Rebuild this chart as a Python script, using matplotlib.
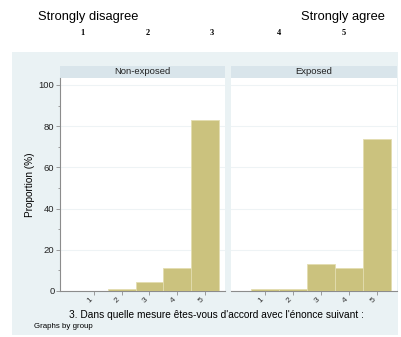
import matplotlib
matplotlib.use("Agg")
import matplotlib.pyplot as plt
from matplotlib.patches import Rectangle

plt.rcParams['font.family'] = ['Liberation Sans', 'DejaVu Sans']

# response proportions (%) per answer category, by group
categories = [1, 2, 3, 4, 5]
tick_labels = ['1', '2', '3', '4', '5']
groups = ['Non-exposed', 'Exposed']
non_exposed = [0, 1.2, 4.5, 11.3, 83.0]
exposed = [1.0, 1.0, 13.0, 11.0, 74.0]
series = [non_exposed, exposed]

scale_ends = ['Strongly disagree', 'Strongly agree']
scale_nums = ['1', '2', '3', '4', '5']

W, H = 401, 337
fig = plt.figure(figsize=(W / 100, H / 100), dpi=100)
fig.patch.set_facecolor('white')

def fx(x):
    return x / W

def fy(y):
    return 1 - y / H

bg = '#eaf2f4'
strip_col = '#d9e5eb'
bar_col = '#cbc27e'
axis_col = '#8c8c8c'

# graph region background
fig.patches.append(Rectangle((fx(12), fy(335)), fx(398) - fx(12), fy(52) - fy(335),
                             transform=fig.transFigure, facecolor=bg, edgecolor='none', zorder=-2))

# Likert scale header above the graph
fig.text(fx(38), fy(17), scale_ends[0], fontsize=9.3, va='center', ha='left')
fig.text(fx(385), fy(17), scale_ends[1], fontsize=9.3, va='center', ha='right')
for xp, s in zip([82, 148, 212, 279, 344], scale_nums):
    fig.text(fx(xp), fy(33), s, fontsize=6, family='Liberation Serif', weight='bold',
             ha='center', va='center')

panels = [(60, 225), (231, 397)]
top, bottom = 78, 291
ymax = (bottom - 78) / 2.06

for i, ((l, r), name, vals) in enumerate(zip(panels, groups, series)):
    ax = fig.add_axes([fx(l), fy(bottom), fx(r) - fx(l), fy(top) - fy(bottom)])
    ax.set_zorder(2)
    ax.set_facecolor('white')
    ax.bar(categories, vals, width=1.0, color=bar_col, edgecolor='#e3ddb0', linewidth=0.6, zorder=3)
    ax.set_xlim(-0.21, 5.71)
    ax.set_ylim(0, ymax)
    ax.set_yticks([0, 20, 40, 60, 80, 100])
    ax.set_yticks([10, 30, 50, 70, 90], minor=True)
    ax.grid(axis='y', color='#eef3f5', linewidth=0.8, zorder=0)
    ax.set_xticks(categories)
    ax.set_xticklabels(tick_labels, rotation=45, fontsize=6)
    for lab in ax.get_xticklabels():
        lab.set_ha('right')
        lab.set_va('top')
    for sp in ['top', 'right']:
        ax.spines[sp].set_visible(False)
    ax.spines['bottom'].set_color(axis_col)
    ax.spines['bottom'].set_linewidth(0.8)
    ax.tick_params(axis='x', colors=axis_col, length=3, width=0.6, labelcolor='#333333', pad=1)
    if i == 0:
        ax.spines['left'].set_color(axis_col)
        ax.spines['left'].set_linewidth(0.8)
        ax.tick_params(axis='y', which='major', colors=axis_col, length=3, width=0.6,
                       labelcolor='#222222', labelsize=6.8, pad=1)
        ax.tick_params(axis='y', which='minor', colors=axis_col, length=1.5, width=0.6)
        ax.set_ylabel('Proportion (%)', fontsize=7.2, labelpad=3)
    else:
        ax.spines['left'].set_visible(False)
        ax.tick_params(axis='y', which='both', left=False, labelleft=False)

    # panel strip
    fig.patches.append(Rectangle((fx(l), fy(78)), fx(r) - fx(l), fy(66) - fy(78),
                                 transform=fig.transFigure, facecolor=strip_col,
                                 edgecolor='none', zorder=1))
    fig.text((fx(l) + fx(r)) / 2, fy(72), name, fontsize=6.8, ha='center', va='center',
             color='#222222')

fig.text(fx(216), fy(315), "3. Dans quelle mesure êtes-vous d'accord avec l'énonce suivant :",
         fontsize=7.3, ha='center', va='center')
fig.text(fx(34), fy(326), 'Graphs by group', fontsize=5.7, ha='left', va='center')

fig.savefig('out.png', dpi=100)
